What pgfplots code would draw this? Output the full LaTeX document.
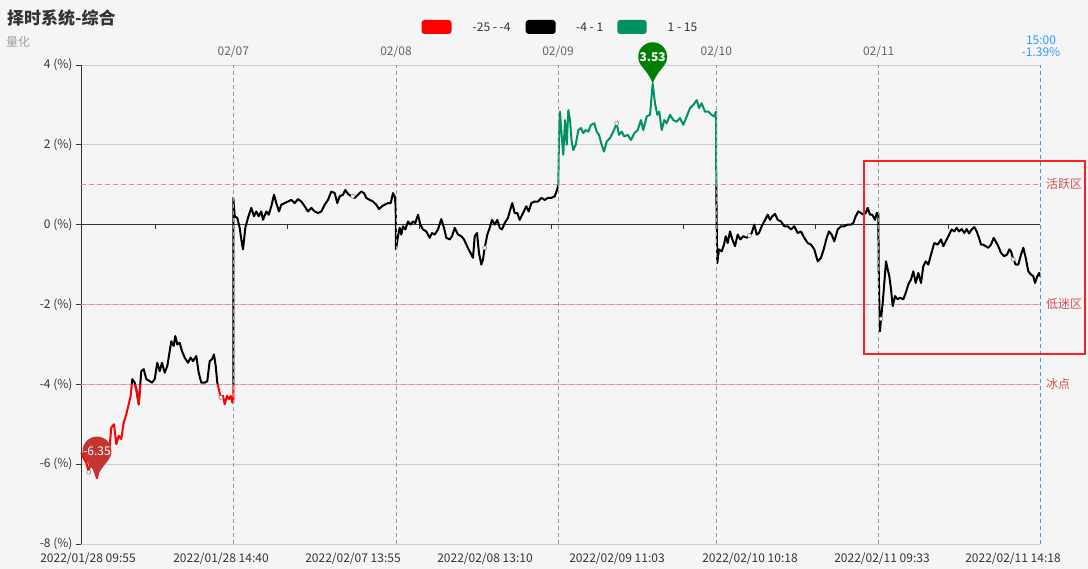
\documentclass[border=0pt]{standalone}
\usepackage{fontspec}
\setmainfont{Noto Sans CJK SC}
\usepackage{pgfplots}
\pgfplotsset{compat=1.18}

\definecolor{bgcol}{HTML}{F5F5F5}
\definecolor{txt}{HTML}{333333}
\definecolor{txtgray}{HTML}{666666}
\definecolor{subgray}{HTML}{A0A0A0}
\definecolor{gridc}{HTML}{CCCCCC}
\definecolor{dayc}{HTML}{999999}
\definecolor{refc}{HTML}{D98F8F}
\definecolor{reflab}{HTML}{D05050}
\definecolor{endc}{HTML}{3399FF}
\definecolor{cRed}{HTML}{FF0000}
\definecolor{cGreen}{HTML}{009260}
\definecolor{pinRed}{HTML}{C23531}
\definecolor{pinGreen}{HTML}{008000}
\definecolor{boxc}{HTML}{FF2020}

% pin marker: tip at the data point, round head above it
\pgfdeclareplotmark{pin}{%
  \pgfpathmoveto{\pgfpoint{0pt}{0pt}}%
  \pgfpathcurveto{\pgfpoint{-1.5pt}{6pt}}{\pgfpoint{-7.2pt}{13.1pt}}{\pgfpoint{-11.1pt}{17.7pt}}%
  \pgfpatharc{220}{-40}{14.5pt}%
  \pgfpathcurveto{\pgfpoint{7.2pt}{13.1pt}}{\pgfpoint{1.5pt}{6pt}}{\pgfpoint{0pt}{0pt}}%
  \pgfpathclose
  \pgfusepathqfill
}

\begin{document}
\begin{tikzpicture}[x=1pt,y=1pt]
\fill[bgcol] (0,0) rectangle (1088,569);

\begin{axis}[
    at={(81pt,25pt)}, anchor=south west,
    scale only axis, width=959pt, height=479pt,
    xmin=0, xmax=959, ymin=-8, ymax=4,
    clip=false,
    axis lines*=left,
    x axis line style={draw=gridc, line width=0.8pt},
    y axis line style={draw=txt, line width=0.8pt},
    tick align=outside,
    major tick length=5pt,
    xtick={7,140,272,404,536,669,801,932},
    xticklabels={2022/01/28 09:55,2022/01/28 14:40,2022/02/07 13:55,2022/02/08 13:10,
                 2022/02/09 11:03,2022/02/10 10:18,2022/02/11 09:33,2022/02/11 14:18},
    xtick style={draw=none},
    ytick={-8,-6,-4,-2,0,2,4},
    yticklabels={-8 (\%),-6 (\%),-4 (\%),-2 (\%),0 (\%),2 (\%),4 (\%)},
    ytick style={draw=txt, line width=0.8pt},
    tick label style={font=\fontsize{12}{14}\selectfont, text=txt},
    ymajorgrids,
    major grid style={draw=gridc, line width=0.8pt},
]

% zero line with its small ticks
\addplot[txt, line width=0.8pt] coordinates {(0,0) (959,0)};
\addplot[ycomb, txt, line width=0.8pt, mark=none]
  coordinates {(74,-0.1) (206,-0.1) (338,-0.1) (470,-0.1) (602,-0.1) (734,-0.1) (867,-0.1)};

% reference levels
\addplot[refc, line width=1.1pt, dash pattern=on 5pt off 3pt] coordinates {(0,1) (959,1)};
\addplot[refc, line width=1.1pt, dash pattern=on 5pt off 3pt] coordinates {(0,-2) (959,-2)};
\addplot[refc, line width=1.1pt, dash pattern=on 5pt off 3pt] coordinates {(0,-4) (959,-4)};

% ---- series, black part (-4 .. 1)
\addplot[black, line width=2pt, line join=round] coordinates {
(50.8,-4.0) (51.3,-3.87) (53.7,-3.96) (55.3,-4.12) (57.7,-4.5) (60.3,-3.67)
(62.7,-3.62) (65.3,-3.87) (68.7,-3.92) (71,-3.96) (73.7,-3.87) (76.3,-3.46)
(78.7,-3.67) (81,-3.46) (83.7,-3.71) (86.3,-3.54) (88.7,-3.17) (90.3,-2.92)
(92.7,-3.04) (94.3,-2.79) (96.3,-3.0) (98.7,-2.96) (101,-3.17) (103.7,-3.33)
(107,-3.46) (109.7,-3.33) (112,-3.42) (115.3,-3.29) (117.7,-3.71) (120.3,-3.96)
(123.7,-3.96) (126.3,-3.92) (128.7,-3.42) (131,-3.37) (133,-3.25) (134.7,-3.54)
(136.3,-3.96) (136.7,-4.0)};
\addplot[black, line width=2pt, line join=round] coordinates {
(152.3,-4.0) (152.3,0.67) (153.7,0.21) (156.3,0.17) (158.7,-0.08) (160.3,-0.37)
(162,-0.62) (164.3,-0.08) (167,0.17) (170.3,0.42) (173,0.21) (175.3,0.33)
(177.7,0.21) (180.3,0.33) (182,0.12) (185.3,0.33) (187.7,0.25) (190.3,0.46)
(193,0.75) (195.3,0.54) (198,0.33) (200.3,0.5) (203.7,0.54) (207,0.58)
(210.3,0.62) (213.7,0.54) (217,0.64) (220.3,0.58) (223.7,0.46) (227,0.33)
(230.3,0.42) (233.7,0.33) (237,0.29) (240.3,0.33) (243.7,0.5) (247,0.62)
(250.3,0.83) (253.7,0.79) (256.3,0.54) (258.7,0.71) (262,0.75) (264.3,0.87)
(267,0.77) (270.3,0.71) (273.7,0.67) (277,0.75) (280.3,0.83) (283,0.79)
(285.3,0.67) (288.7,0.62) (292,0.58) (295.3,0.5) (298,0.39) (301,0.46)
(303.7,0.5) (307,0.54) (309.7,0.54) (312,0.79) (313.7,0.71) (314.7,0.46)
(315,-0.62) (317,-0.29) (318.7,-0.08) (320.3,-0.25) (322,-0.04) (324.3,-0.12)
(327,0.08) (329.7,0.0) (332,0.08) (334.3,0.04) (337,0.25) (339.3,0.0)
(342,-0.12) (345.3,-0.17) (348.7,-0.33) (351,-0.21) (353.7,-0.25) (357,-0.12)
(360.3,0.14) (363,-0.08) (365.3,-0.33) (368.7,-0.37) (371,-0.29) (373.7,-0.08)
(377,-0.25) (380.3,-0.29) (383,-0.37) (385.3,-0.5) (388.7,-0.67) (392,-0.83)
(393.7,-0.29) (396,-0.21) (398,-0.71) (400.3,-1.0) (402,-0.87) (403.7,-0.58)
(406.3,-0.25) (408.7,-0.08) (411,0.12) (413.7,0.0) (416.3,0.12) (418.7,-0.08)
(421,-0.12) (423.7,0.04) (427,0.17) (428.7,0.33) (431.3,0.54) (433.7,0.29)
(436.3,0.29) (438.7,0.12) (442,0.29) (445.3,0.46) (447.7,0.33) (450.3,0.54)
(453.7,0.58) (457,0.58) (460.3,0.67) (463.7,0.62) (467,0.67) (470.3,0.67)
(473.7,0.71) (476,0.87) (477.3,1.0)};
\addplot[black, line width=2pt, line join=round] coordinates {
(635.3,1.0) (635.7,-0.04) (636.3,-0.96) (638,-0.62) (640.7,-0.67) (643,-0.5)
(644.7,-0.29) (646.7,-0.46) (649,-0.17) (651.3,-0.37) (654,-0.54) (656.7,-0.25)
(659.3,-0.37) (662.3,-0.29) (665.7,-0.33) (668.3,-0.27) (670.7,-0.21) (673.3,0.0)
(675.7,-0.25) (678,-0.21) (680.7,-0.04) (683.3,0.08) (686.7,0.25) (689,0.12)
(691.3,0.21) (694,0.27) (696.7,0.12) (700,0.08) (703.3,-0.04) (706.7,-0.04)
(710,-0.12) (713.3,-0.04) (716.7,-0.21) (720,-0.17) (723.3,-0.33) (726.7,-0.46)
(730,-0.5) (733.3,-0.62) (736.7,-0.92) (740,-0.83) (742.7,-0.62) (745.7,-0.33)
(748,-0.17) (750.7,-0.25) (753.3,-0.42) (756.7,-0.12) (760,-0.04) (763.3,-0.04)
(766.7,0.0) (770,0.0) (772.3,0.04) (774.7,0.21) (777.3,0.33) (780,0.29)
(782.3,0.25) (784.7,0.29) (786.7,0.42) (789,0.25) (791.3,0.25) (794,0.12)
(795.7,0.29) (797.3,0.29) (797.7,-1.12) (798.3,-1.96) (799,-2.67) (800,-2.36)
(801.7,-1.96) (803.3,-1.46) (805,-0.92) (806.7,-1.12) (808.3,-1.29) (810,-1.62)
(811.7,-2.04) (814,-1.79) (816.7,-1.87) (819,-1.83) (822.3,-1.87) (824.7,-1.71)
(827.3,-1.5) (830,-1.37) (832.3,-1.17) (834.7,-1.46) (837.3,-1.21) (840,-1.46)
(842.3,-1.04) (844.7,-0.92) (847.3,-1.0) (850,-0.75) (853.3,-0.46) (856.7,-0.5)
(860,-0.37) (862.3,-0.54) (864.7,-0.42) (867.3,-0.29) (870.7,-0.12) (873.3,-0.17)
(875.7,-0.08) (878,-0.17) (880.7,-0.11) (883.3,-0.21) (885.7,-0.11) (888,-0.22)
(890.7,-0.12) (893.3,-0.06) (895.7,-0.17) (898,-0.33) (900,-0.5) (902.3,-0.5)
(904.7,-0.54) (907.3,-0.58) (910,-0.5) (912.7,-0.33) (914.7,-0.42) (917.3,-0.54)
(920,-0.71) (923.3,-0.79) (926,-0.75) (928.3,-0.62) (930,-0.67) (932.3,-0.87)
(934.7,-1.0) (937.3,-1.0) (940,-0.75) (942.3,-0.58) (944.7,-0.83) (947.3,-1.17)
(950,-1.25) (952.3,-1.29) (954,-1.46) (956.3,-1.29) (958.3,-1.21) (959,-1.3)};

% ---- red part (below -4)
\addplot[cRed, line width=2pt, line join=round] coordinates {
(0.3,-5.71) (3,-5.87) (5.3,-5.96) (7.7,-6.2) (10.3,-5.87) (13.7,-6.17)
(16,-6.35) (18.7,-5.96) (22,-5.79) (25.3,-5.67) (28.7,-5.54) (30.3,-5.08)
(33,-5.0) (35.3,-5.5) (37.7,-5.29) (40.3,-5.37) (42.7,-4.96) (45.3,-4.75)
(47.7,-4.5) (49.7,-4.29) (50.8,-4.0)};
\addplot[cRed, line width=2pt, line join=round] coordinates {
(54.1,-4.0) (55.3,-4.12) (57.7,-4.5) (59.3,-4.0)};
\addplot[cRed, line width=2pt, line join=round] coordinates {
(136.7,-4.0) (137.7,-4.12) (139.7,-4.33) (142,-4.29) (143.7,-4.5) (146,-4.29)
(148,-4.37) (149.7,-4.29) (151.3,-4.46) (152.3,-4.46) (152.3,-4.0)};

% ---- green part (above 1)
\addplot[cGreen, line width=2pt, line join=round] coordinates {
(477.3,1.0) (478,2.21) (479,2.83) (480.7,2.21) (482.3,1.75) (484,2.62)
(485.7,2.0) (487.3,2.87) (489,2.62) (490.7,2.08) (492.3,1.87) (494.7,2.0)
(497.3,2.37) (500,2.42) (502.3,2.29) (504.7,2.37) (507.3,2.33) (510,2.5)
(513.3,2.54) (515.7,2.33) (518,2.25) (520.7,2.0) (523,1.83) (525.7,2.08)
(529,2.17) (532.3,2.33) (535.7,2.54) (538,2.25) (540.7,2.33) (543.3,2.21)
(546.7,2.25) (550,2.12) (553.3,2.29) (556.7,2.37) (560,2.62) (562.3,2.37)
(565.7,2.71) (569,2.75) (571.7,3.53) (574,3.04) (576.3,2.75) (578.3,2.83)
(580.7,2.37) (583.3,2.62) (585.7,2.54) (589,2.75) (592.3,2.62) (595.7,2.58)
(599,2.67) (602.3,2.5) (605.7,2.71) (609,2.92) (612.3,3.0) (615.7,3.12)
(618,2.92) (620.7,3.04) (624,2.83) (627.3,2.83) (630.7,2.75) (633.3,2.71)
(635,2.83) (635.3,1.0)};

% small hollow symbols on the line
\addplot[only marks, mark=*, mark size=2pt,
         mark options={fill=white, draw=black!55, line width=0.5pt}]
  coordinates {(7.7,-6.2) (139.7,-4.33) (271.7,0.71) (403.7,-0.58)
               (535.7,2.54) (668.3,-0.27) (800,-2.36) (932.3,-0.87)};

% day separators and last bar
\addplot[dayc, line width=1pt, dash pattern=on 4pt off 3pt] coordinates {(152.3,-8) (152.3,4)};
\addplot[dayc, line width=1pt, dash pattern=on 4pt off 3pt] coordinates {(315,-8) (315,4)};
\addplot[dayc, line width=1pt, dash pattern=on 4pt off 3pt] coordinates {(477,-8) (477,4)};
\addplot[dayc, line width=1pt, dash pattern=on 4pt off 3pt] coordinates {(635.3,-8) (635.3,4)};
\addplot[dayc, line width=1pt, dash pattern=on 4pt off 3pt] coordinates {(797.7,-8) (797.7,4)};
\addplot[endc, line width=1pt, dash pattern=on 4pt off 3pt] coordinates {(959,-8) (959,4)};

% min / max pins
\addplot[only marks, mark=pin, mark options={fill=pinRed, draw=none},
         point meta=explicit symbolic, nodes near coords,
         every node near coord/.append style={anchor=center, yshift=27pt,
           text=white, font=\fontsize{12}{14}\selectfont, inner sep=0pt}]
  coordinates {(16,-6.35) [-6.35]};
\addplot[only marks, mark=pin, mark options={fill=pinGreen, draw=none},
         point meta=explicit symbolic, nodes near coords,
         every node near coord/.append style={anchor=center, yshift=27pt,
           text=white, font=\fontsize{12}{14}\selectfont\bfseries, inner sep=0pt}]
  coordinates {(571.7,3.53) [3.53]};
\end{axis}

% titles
\node[anchor=west, inner sep=0pt, text=txt, font=\fontsize{17}{20}\selectfont\bfseries]
  at (7,550.5) {择时系统-综合};
\node[anchor=west, inner sep=0pt, text=subgray, font=\fontsize{12}{14}\selectfont]
  at (6,527.5) {量化};

% legend
\fill[cRed, rounded corners=3pt] (421.5,535) rectangle (451.5,549);
\node[anchor=west, inner sep=0pt, text=txt, font=\fontsize{12}{14}\selectfont] at (472.5,542) {-25 - -4};
\fill[black, rounded corners=3pt] (525.7,535) rectangle (555.7,549);
\node[anchor=west, inner sep=0pt, text=txt, font=\fontsize{12}{14}\selectfont] at (576,542) {-4 - 1};
\fill[cGreen, rounded corners=3pt] (617.3,535) rectangle (646.7,549);
\node[anchor=west, inner sep=0pt, text=txt, font=\fontsize{12}{14}\selectfont] at (667.5,542) {1 - 15};

% day labels on top
\foreach \px/\lab in {233.3/02\slash07, 396/02\slash08, 558/02\slash09, 716.3/02\slash10, 878.7/02\slash11}
  \node[text=txtgray, font=\fontsize{12}{14}\selectfont, inner sep=0pt] at (\px,517) {\lab};
\node[text=endc, font=\fontsize{12}{14}\selectfont, inner sep=0pt] at (1041,529) {15:00};
\node[text=endc, font=\fontsize{12}{14}\selectfont, inner sep=0pt] at (1041,517) {-1.39\%};

% level labels
\node[anchor=west, text=reflab, font=\fontsize{12}{14}\selectfont, inner sep=0pt] at (1046,385) {活跃区};
\node[anchor=west, text=reflab, font=\fontsize{12}{14}\selectfont, inner sep=0pt] at (1046,265) {低迷区};
\node[anchor=west, text=reflab, font=\fontsize{12}{14}\selectfont, inner sep=0pt] at (1046,185) {冰点};

% highlight box
\draw[boxc, line width=2.6pt] (864,215) rectangle (1085,408);

\pgfresetboundingbox
\path[use as bounding box] (0,0) rectangle (1088,569);
\end{tikzpicture}
\end{document}
